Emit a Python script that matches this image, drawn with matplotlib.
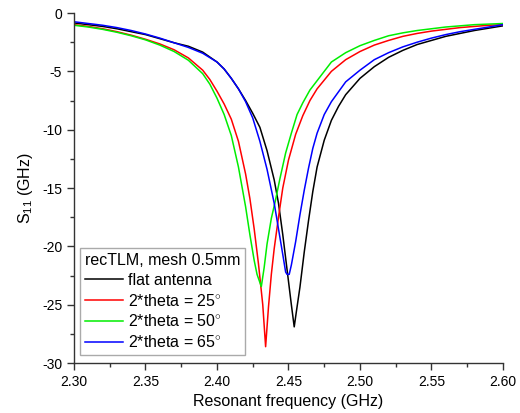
import numpy as np
import matplotlib
matplotlib.use("Agg")
import matplotlib.pyplot as plt
from matplotlib.ticker import MultipleLocator

plt.rcParams['font.family'] = ['Liberation Sans', 'DejaVu Sans']
plt.rcParams['mathtext.fontset'] = 'custom'
plt.rcParams['mathtext.rm'] = 'Liberation Sans'
plt.rcParams['mathtext.it'] = 'Liberation Sans:italic'

# ======================== 数据 ========================
f_flat = [2.300, 2.310, 2.320, 2.330, 2.340, 2.350, 2.360, 2.370, 2.380, 2.390,
          2.400, 2.405, 2.410, 2.415, 2.420, 2.425, 2.430, 2.435, 2.440, 2.443,
          2.446, 2.449, 2.452, 2.454, 2.4555, 2.458, 2.461, 2.464, 2.467, 2.470,
          2.475, 2.480, 2.485, 2.490, 2.500, 2.510, 2.520, 2.530, 2.540, 2.550,
          2.560, 2.570, 2.580, 2.590, 2.600]
s_flat = [-0.85, -1.0, -1.15, -1.35, -1.6, -1.85, -2.2, -2.55, -2.85, -3.35,
          -4.2, -4.8, -5.6, -6.5, -7.5, -8.6, -9.8, -11.8, -14.3, -16.3,
          -19.0, -22.0, -25.0, -26.9, -25.6, -23.5, -20.5, -17.8, -15.3, -13.2,
          -10.9, -9.2, -8.0, -7.0, -5.6, -4.6, -3.8, -3.2, -2.7, -2.35,
          -2.0, -1.75, -1.5, -1.3, -1.1]

f_25 = [2.300, 2.310, 2.320, 2.330, 2.340, 2.350, 2.360, 2.370, 2.380, 2.390,
        2.395, 2.400, 2.405, 2.410, 2.415, 2.420, 2.423, 2.426, 2.429, 2.432,
        2.434, 2.436, 2.438, 2.440, 2.443, 2.446, 2.450, 2.455, 2.460, 2.465,
        2.470, 2.480, 2.490, 2.500, 2.510, 2.520, 2.530, 2.540, 2.550, 2.560,
        2.570, 2.580, 2.590, 2.600]
s_25 = [-1.0, -1.15, -1.35, -1.6, -1.9, -2.25, -2.65, -3.15, -3.85, -4.9,
        -5.7, -6.7, -7.8, -9.1, -11.0, -13.8, -15.9, -18.5, -21.5, -25.0,
        -28.6, -25.2, -22.4, -20.2, -17.5, -15.0, -12.6, -10.4, -8.8, -7.5,
        -6.5, -5.0, -4.0, -3.3, -2.75, -2.35, -2.0, -1.75, -1.55, -1.4,
        -1.25, -1.15, -1.05, -1.0]

f_50 = [2.300, 2.310, 2.320, 2.330, 2.340, 2.350, 2.360, 2.370, 2.380, 2.390,
        2.395, 2.400, 2.405, 2.410, 2.415, 2.420, 2.423, 2.426, 2.428, 2.431,
        2.433, 2.435, 2.438, 2.441, 2.444, 2.448, 2.452, 2.456, 2.460, 2.465,
        2.470, 2.480, 2.490, 2.500, 2.510, 2.520, 2.530, 2.540, 2.550, 2.560,
        2.570, 2.580, 2.590, 2.600]
s_50 = [-1.05, -1.2, -1.4, -1.65, -1.95, -2.3, -2.75, -3.3, -4.05, -5.2,
        -6.1, -7.3, -8.7, -10.5, -13.2, -16.6, -19.0, -21.2, -22.4, -23.45,
        -21.8, -19.8, -17.6, -16.0, -14.2, -12.0, -10.3, -8.7, -7.7, -6.6,
        -5.8, -4.2, -3.4, -2.8, -2.35, -1.95, -1.7, -1.5, -1.35, -1.2,
        -1.1, -1.0, -0.95, -0.9]

f_65 = [2.300, 2.310, 2.320, 2.330, 2.340, 2.350, 2.360, 2.370, 2.380, 2.390,
        2.400, 2.405, 2.410, 2.415, 2.420, 2.425, 2.430, 2.435, 2.440, 2.443,
        2.446, 2.448, 2.449, 2.4505, 2.452, 2.455, 2.458, 2.461, 2.464, 2.467,
        2.470, 2.475, 2.480, 2.490, 2.500, 2.510, 2.520, 2.530, 2.540, 2.550,
        2.560, 2.570, 2.580, 2.590, 2.600]
s_65 = [-0.75, -0.9, -1.05, -1.25, -1.5, -1.8, -2.15, -2.55, -2.95, -3.45,
        -4.2, -4.8, -5.6, -6.5, -7.6, -9.0, -11.0, -13.4, -16.3, -18.5,
        -20.7, -22.2, -22.4, -22.4, -21.6, -19.6, -17.3, -15.2, -13.3, -11.6,
        -10.3, -8.7, -7.6, -5.9, -4.9, -4.0, -3.4, -2.9, -2.5, -2.15,
        -1.85, -1.6, -1.4, -1.2, -1.0]

series = [
    (f_flat, s_flat, 'black', 'flat antenna'),
    (f_25, s_25, '#ff0000', '2*theta = 25$^{\\circ}$'),
    (f_50, s_50, '#00ee00', '2*theta = 50$^{\\circ}$'),
    (f_65, s_65, '#0000ff', '2*theta = 65$^{\\circ}$'),
]

# ======================== 绘图 ========================
fig = plt.figure(figsize=(5.2, 4.13), dpi=100)
ax = fig.add_axes([0.1423, 0.121, 0.825, 0.8475])

for f, s, c, lab in series:
    ax.plot(f, s, color=c, lw=1.1, label=lab)

ax.set_xlim(2.30, 2.60)
ax.set_ylim(-30, 0)
ax.xaxis.set_major_locator(MultipleLocator(0.05))
ax.xaxis.set_minor_locator(MultipleLocator(0.025))
ax.yaxis.set_major_locator(MultipleLocator(5))
ax.yaxis.set_minor_locator(MultipleLocator(2.5))
ax.xaxis.set_major_formatter(plt.FormatStrFormatter('%.2f'))
ax.yaxis.set_major_formatter(plt.FormatStrFormatter('%d'))

for side in ['top', 'right']:
    ax.spines[side].set_visible(False)
for side in ['left', 'bottom']:
    ax.spines[side].set_color('#333333')
    ax.spines[side].set_linewidth(1.0)

ax.tick_params(which='major', direction='out', length=5, width=1.0,
               labelsize=10, colors='#333333', labelcolor='black')
ax.tick_params(which='minor', direction='out', length=3, width=1.0, colors='#333333')

ax.set_xlabel('Resonant frequency (GHz)', fontsize=11.5, labelpad=4)
ax.set_ylabel('S$_{11}$ (GHz)', fontsize=11.5, labelpad=5)

leg = ax.legend(title='recTLM, mesh 0.5mm', loc='lower left',
                bbox_to_anchor=(0.014, 0.023), borderaxespad=0,
                fontsize=11.5, title_fontsize=11.5, fancybox=False,
                edgecolor='#aaaaaa', framealpha=1, handlelength=2.4,
                handletextpad=0.3, labelspacing=0.3, borderpad=0.3)
leg._legend_box.align = 'left'
leg.get_frame().set_linewidth(1.0)

fig.savefig('out.png', dpi=100)
